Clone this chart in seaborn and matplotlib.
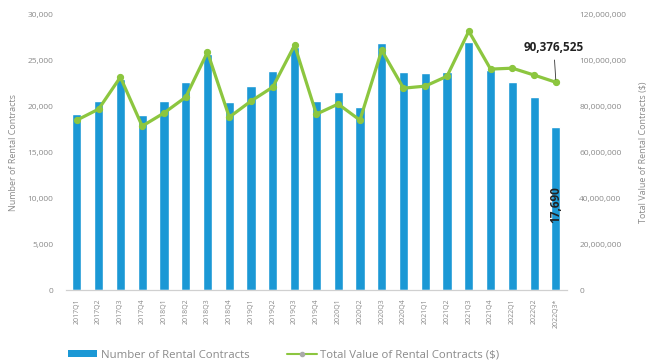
import matplotlib
matplotlib.use("Agg")
import matplotlib.pyplot as plt
import seaborn as sns
import pandas as pd
from matplotlib.patches import Patch
from matplotlib.lines import Line2D
from matplotlib.ticker import FuncFormatter

quarters = ["2017Q1", "2017Q2", "2017Q3", "2017Q4",
            "2018Q1", "2018Q2", "2018Q3", "2018Q4",
            "2019Q1", "2019Q2", "2019Q3", "2019Q4",
            "2020Q1", "2020Q2", "2020Q3", "2020Q4",
            "2021Q1", "2021Q2", "2021Q3", "2021Q4",
            "2022Q1", "2022Q2", "2022Q3*"]
contracts = [19100, 20550, 23000, 19050, 20550, 22650, 25650, 20450,
             22200, 23800, 26450, 20550, 21550, 19900, 26850, 23700,
             23600, 23700, 26950, 23900, 22650, 21000, 17690]
values = [73.9e6, 78.7e6, 92.6e6, 71.3e6, 77.0e6, 83.9e6, 103.5e6, 75.2e6,
          82.2e6, 88.3e6, 106.5e6, 76.5e6, 80.9e6, 73.9e6, 104.3e6, 87.8e6,
          88.7e6, 93.0e6, 112.6e6, 96.1e6, 96.5e6, 93.5e6, 90376525]

left_ticks = [0, 5000, 10000, 15000, 20000, 25000, 30000]
right_ticks = [0, 20e6, 40e6, 60e6, 80e6, 100e6, 120e6]

bar_color = "#1b98d5"
line_color = "#8cc63f"
txt_gray = "#8a8a8a"

sns.set_theme(style="white")
plt.rcParams["font.family"] = ["Open Sans", "DejaVu Sans"]

df = pd.DataFrame({"quarter": quarters, "contracts": contracts, "value": values})

fig = plt.figure(figsize=(6.53, 3.63), dpi=100)
ax = fig.add_axes([0.101, 0.201, 0.767, 0.76])
sns.barplot(data=df, x="quarter", y="contracts", ax=ax, color=bar_color,
            width=0.42, saturation=1)
ax2 = ax.twinx()
sns.pointplot(data=df, x="quarter", y="value", ax=ax2, color=line_color,
              markers="o", markersize=3.5, linewidth=2.3, errorbar=None)

ax.set_ylim(0, 30000)
ax2.set_ylim(0, 120e6)
ax.set_xlim(-0.5, len(quarters) - 0.5)
ax.set_yticks(left_ticks)
ax2.set_yticks(right_ticks)
ax.yaxis.set_major_formatter(FuncFormatter(lambda v, p: f"{int(v):,}"))
ax2.yaxis.set_major_formatter(FuncFormatter(lambda v, p: f"{int(v):,}"))

for a in (ax, ax2):
    for s in ["top", "right", "left"]:
        a.spines[s].set_visible(False)
    a.spines["bottom"].set_color("#d0d0d0")
    a.spines["bottom"].set_linewidth(0.8)
    a.tick_params(axis="y", labelsize=6, labelcolor=txt_gray, length=0, pad=9)
ax.tick_params(axis="x", labelsize=5, labelcolor=txt_gray, length=0, rotation=90, pad=6)
ax.set_xlabel("")
ax.set_ylabel("Number of Rental Contracts", fontsize=6.5, color=txt_gray, labelpad=7)
ax2.set_ylabel("Total Value of Rental Contracts ($)", fontsize=6.5, color=txt_gray, labelpad=9)

n = len(quarters) - 1
ax2.annotate(f"{values[-1]:,}", xy=(n, values[-1]), xytext=(n - 0.1, 104e6),
             fontsize=8.5, fontweight="bold", color="#222222", ha="center",
             arrowprops=dict(arrowstyle="-", color="#333333", lw=0.6))
ax.text(n, 9300, f"{contracts[-1]:,}", rotation=90, fontsize=8.5, fontweight="bold",
        color="#222222", ha="center", va="center")

handles = [Patch(facecolor=bar_color, edgecolor="none"),
           Line2D([0], [0], color=line_color, lw=1.5, marker="o", markersize=3,
                  markerfacecolor="#aaaaaa", markeredgecolor="#aaaaaa")]
fig.legend(handles, ["Number of Rental Contracts", "Total Value of Rental Contracts ($)"],
           loc="lower left", bbox_to_anchor=(0.088, -0.022), ncol=2, frameon=False,
           fontsize=8.2, labelcolor=txt_gray, columnspacing=3.3, handlelength=2.6,
           handleheight=0.6, handletextpad=0.3)

fig.savefig("out.png", dpi=100)
